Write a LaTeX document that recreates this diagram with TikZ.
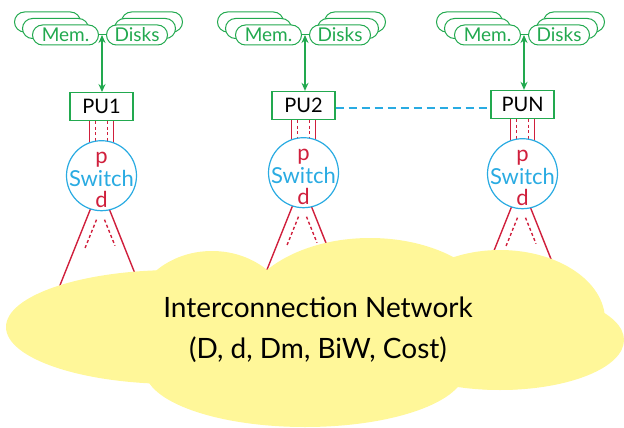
\documentclass[tikz,border=0pt]{standalone}
\usepackage{fontspec}
\setmainfont{Lato}
\usetikzlibrary{arrows.meta}

\definecolor{netyellow}{HTML}{FFF799}
\definecolor{memgreen}{HTML}{22A94F}
\definecolor{swblue}{HTML}{29ABE2}
\definecolor{linkred}{HTML}{D01F3C}

% One processing unit: memory/disk stacks, PU box, switch and its links.
% #1 name prefix, #2 junction x, #3 PU/switch x, #4 PU y, #5 switch y, #6 PU label
\newcommand\procunit[6]{%
  \node[store, minimum width=66pt] (#1memC) at (#2-54.5,22) {};
  \node[store, minimum width=66pt] (#1memB) at (#2-46.5,28.5) {};
  \node[store, minimum width=66pt] (#1mem)  at (#2-36.5,35) {Mem.};
  \node[store, minimum width=61pt] (#1dskC) at (#2+50,22) {};
  \node[store, minimum width=61pt] (#1dskB) at (#2+43,28.5) {};
  \node[store, minimum width=61pt] (#1dsk)  at (#2+35,35) {Disks};
  \draw[storeline] (#1mem.east) -- (#1dsk.west);
  \coordinate (#1j) at (#2,35);
  \node[pubox] (#1pu) at (#3,#4) {#6};
  \draw[busarrow] (#1j) -- (#1j |- #1pu.north);
  % links from the PU down to its switch
  \coordinate (#1swc) at (#3,#5);
  \draw[redlink] ([xshift=-12pt]#1pu.south) -- ([xshift=-12pt]#1swc);
  \draw[redlink] ([xshift=12pt]#1pu.south) -- ([xshift=12pt]#1swc);
  \draw[redlink, reddash] ([xshift=-6pt]#1pu.south) -- ([xshift=-6pt]#1swc);
  \draw[redlink, reddash] ([xshift=6pt]#1pu.south) -- ([xshift=6pt]#1swc);
  % links from the switch into the network
  \draw[redlink] ([xshift=2.3pt]#1swc) -- ([xshift=-43pt,yshift=-113.2pt]#1swc);
  \draw[redlink] ([xshift=-5.6pt]#1swc) -- ([xshift=40pt,yshift=-114.1pt]#1swc);
  \draw[redlink, reddash] ([xshift=-5pt,yshift=-44pt]#1swc) -- ([xshift=-16.5pt,yshift=-72.5pt]#1swc);
  \draw[redlink, reddash] ([xshift=3pt,yshift=-44pt]#1swc) -- ([xshift=13.5pt,yshift=-70pt]#1swc);
  \node[switchnode] (#1sw) at (#1swc) {};
  \node[swlabel, anchor=base] (#1swt) at ([yshift=-11pt]#1sw.center) {Switch};
  \node[portlabel, anchor=base] (#1p) at ([yshift=12pt]#1sw.center) {p};
  \node[portlabel, anchor=base] (#1d) at ([yshift=-31.5pt]#1sw.center) {d};
}

\begin{document}
\begin{tikzpicture}[x=1pt,y=-1pt,
  store/.style={draw=memgreen, line width=1pt, fill=white, rounded corners=10pt,
    minimum height=20pt, inner sep=0pt, text=memgreen,
    font=\fontsize{19}{19}\selectfont},
  storeline/.style={draw=memgreen, line width=1pt},
  pubox/.style={draw=memgreen, line width=1.3pt, fill=white, minimum width=63pt,
    minimum height=28pt, inner sep=0pt, font=\fontsize{20}{20}\selectfont},
  busarrow/.style={draw=memgreen, line width=1.3pt,
    {Stealth[length=8pt,width=7pt]}-{Stealth[length=8pt,width=7pt]}},
  redlink/.style={draw=linkred, line width=1.4pt},
  reddash/.style={dash pattern=on 3pt off 2.5pt},
  switchnode/.style={circle, draw=swblue, line width=1.2pt, fill=white,
    minimum size=70pt, inner sep=0pt},
  swlabel/.style={text=swblue, inner sep=0pt, font=\fontsize{22}{22}\selectfont},
  portlabel/.style={text=linkred, inner sep=0pt, font=\fontsize{22}{22}\selectfont},
  nettext/.style={inner sep=0pt, font=\fontsize{28}{28}\selectfont},
  peerlink/.style={draw=swblue, line width=1.2pt, dash pattern=on 8pt off 5pt}
]
\useasboundingbox (0,0) rectangle (624,428);

\procunit{a}{102}{101.5}{106.7}{175.7}{PU1}
\procunit{b}{305}{303.5}{105.5}{172.7}{PU2}
\procunit{n}{524}{522.5}{104.5}{173.7}{PUN}

\draw[peerlink] ([yshift=-2.5pt]bpu.east) -- ([yshift=-2.5pt]bpu.east -| npu.west);

% the interconnection network cloud
\begin{scope}[netyellow]
  \fill (175,327) ellipse [x radius=169pt, y radius=57pt];
  \fill (212,320) ellipse [x radius=80pt, y radius=69pt];
  \fill (370,320) ellipse [x radius=130pt, y radius=82pt];
  \fill (500,320) ellipse [x radius=105pt, y radius=70pt];
  \fill (500,340) ellipse [x radius=124pt, y radius=50pt];
  \fill (305,370) ellipse [x radius=160pt, y radius=57pt];
\end{scope}

\node[nettext, anchor=base] (netname) at (318,317.3) {Interconnection Network};
\node[nettext, anchor=base] (netparams) at (318,358) {(D, d, Dm, BiW, Cost)};
\end{tikzpicture}
\end{document}
